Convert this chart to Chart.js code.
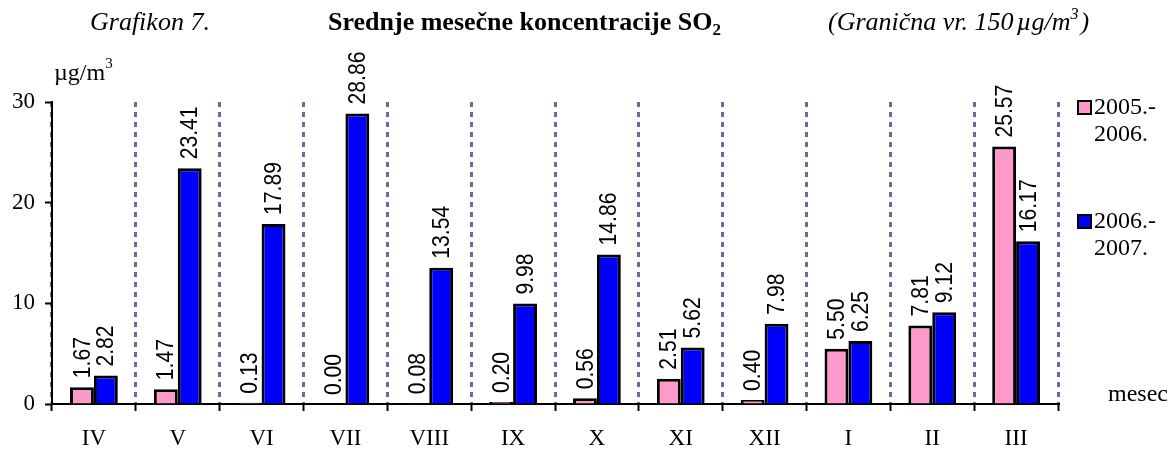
<!DOCTYPE html>
<html>
<head>
<meta charset="utf-8">
<script src="https://cdn.jsdelivr.net/npm/chart.js@4.4.0/dist/chart.umd.min.js"></script>
<style>
  html, body { margin: 0; padding: 0; background: #fff; }
  #wrap { position: relative; width: 1176px; height: 455px; }
</style>
</head>
<body>
<div id="wrap"><canvas id="grafikon"></canvas></div>
<script>
// podaci
const meseci = ['IV', 'V', 'VI', 'VII', 'VIII', 'IX', 'X', 'XI', 'XII', 'I', 'II', 'III'];
const sezona1 = [1.67, 1.47, 0.13, 0.00, 0.08, 0.20, 0.56, 2.51, 0.40, 5.50, 7.81, 25.57];
const sezona2 = [2.82, 23.41, 17.89, 28.86, 13.54, 9.98, 14.86, 5.62, 7.98, 6.25, 9.12, 16.17];
const nazivi = [['2005.-', '2006.'], ['2006.-', '2007.']];
const yTicks = [0, 10, 20, 30];

const serif = '"Liberation Serif", "Times New Roman", serif';
const sans = '"Liberation Sans", Arial, sans-serif';

// vrednosti iznad stubova, rotirane
const vrednostiPlugin = {
    id: 'vrednosti',
    afterDatasetsDraw(chart) {
        const ctx = chart.ctx;
        ctx.save();
        ctx.fillStyle = '#000';
        ctx.font = '24px ' + sans;
        ctx.textAlign = 'left';
        ctx.textBaseline = 'middle';
        chart.data.datasets.forEach((ds, i) => {
            chart.getDatasetMeta(i).data.forEach((bar, j) => {
                ctx.save();
                ctx.translate(bar.x, bar.y - 9);
                ctx.rotate(-Math.PI / 2);
                ctx.scale(0.88, 1);
                ctx.fillText(ds.data[j].toFixed(2), 0, 1);
                ctx.restore();
            });
        });
        ctx.restore();
    }
};

// naslovi, jedinica, legenda
const tekstPlugin = {
    id: 'tekst',
    afterDraw(chart) {
        const ctx = chart.ctx;
        ctx.save();
        ctx.fillStyle = '#000';
        ctx.textBaseline = 'alphabetic';
        ctx.textAlign = 'left';

        ctx.font = 'italic 26px ' + serif;
        ctx.fillText('Grafikon 7.', 90, 30);

        ctx.font = 'bold 26px ' + serif;
        const t = 'Srednje mesečne koncentracije SO';
        ctx.fillText(t, 328, 30);
        const w = ctx.measureText(t).width;
        ctx.font = 'bold 17px ' + serif;
        ctx.fillText('2', 328 + w, 35);

        ctx.font = 'italic 26px ' + serif;
        let x = 828;
        const p1 = '(Granična vr. 150';
        ctx.fillText(p1, x, 30);
        x += ctx.measureText(p1).width + 3;
        const p2 = 'µg/m';
        ctx.fillText(p2, x, 30);
        x += ctx.measureText(p2).width;
        ctx.font = 'italic 16px ' + serif;
        ctx.fillText('3', x, 19);
        x += ctx.measureText('3').width + 2;
        ctx.font = 'italic 26px ' + serif;
        ctx.fillText(')', x, 30);

        ctx.font = '24px ' + serif;
        ctx.fillText('µg/m', 54, 80);
        const wu = ctx.measureText('µg/m').width;
        ctx.font = '15px ' + serif;
        ctx.fillText('3', 54 + wu, 68);

        ctx.font = '24px ' + serif;
        ctx.fillText('mesec', 1108, 401);

        // legenda
        const legY = [108, 222];
        chart.data.datasets.forEach((ds, i) => {
            const y = legY[i];
            ctx.fillStyle = ds.backgroundColor;
            ctx.fillRect(1078, y - 7, 13, 13);
            ctx.strokeStyle = '#000';
            ctx.lineWidth = 2;
            ctx.strokeRect(1078, y - 7, 13, 13);
            ctx.fillStyle = '#000';
            ctx.font = '24px ' + serif;
            ctx.textBaseline = 'middle';
            ctx.fillText(nazivi[i][0], 1094, y);
            ctx.fillText(nazivi[i][1], 1094, y + 27);
        });
        ctx.restore();
    }
};

new Chart(document.getElementById('grafikon').getContext('2d'), {
    type: 'bar',
    data: {
        labels: meseci,
        datasets: [
            {
                label: nazivi[0].join(' '),
                data: sezona1,
                backgroundColor: '#ff99cc',
                borderColor: '#000',
                borderWidth: 3,
                categoryPercentage: 0.57,
                barPercentage: 1
            },
            {
                label: nazivi[1].join(' '),
                data: sezona2,
                backgroundColor: '#0000ff',
                borderColor: '#000',
                borderWidth: 3,
                categoryPercentage: 0.57,
                barPercentage: 1
            }
        ]
    },
    options: {
        responsive: true,
        maintainAspectRatio: false,
        animation: false,
        layout: { padding: { top: 102, right: 118, left: 0, bottom: 0 } },
        plugins: {
            legend: { display: false },
            tooltip: { enabled: false }
        },
        scales: {
            x: {
                offset: true,
                grid: {
                    offset: true,
                    drawOnChartArea: true,
                    color: '#6a6aa0',
                    lineWidth: 3,
                    tickColor: '#000',
                    tickLength: 7,
                    tickWidth: 2
                },
                border: { color: '#000', width: 2, dash: [5, 5] },
                ticks: {
                    color: '#000',
                    font: { family: serif, size: 23 },
                    padding: 14,
                    maxRotation: 0
                },
                afterFit(scale) { scale.height = 51; }
            },
            y: {
                min: 0,
                max: 30,
                afterBuildTicks(scale) { scale.ticks = yTicks.map(v => ({ value: v })); },
                grid: {
                    drawOnChartArea: false,
                    tickColor: '#000',
                    tickLength: 7,
                    tickWidth: 2
                },
                border: { color: '#000', width: 2 },
                ticks: {
                    color: '#000',
                    font: { family: serif, size: 23 },
                    padding: 10
                },
                afterFit(scale) { scale.width = 52; }
            }
        }
    },
    plugins: [vrednostiPlugin, tekstPlugin]
});
</script>
</body>
</html>
